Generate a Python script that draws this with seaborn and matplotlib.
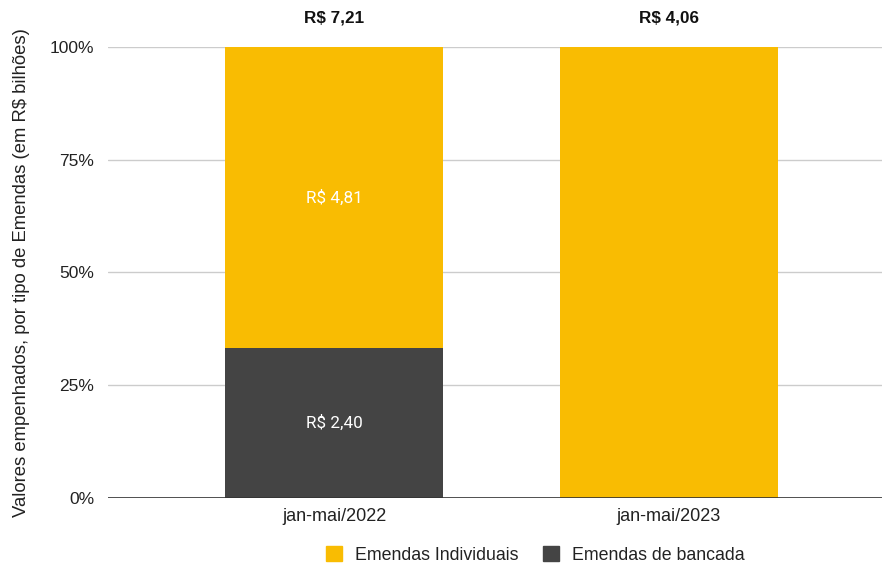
import matplotlib

matplotlib.use("Agg")

import matplotlib.pyplot as plt  # noqa: E402
import pandas as pd  # noqa: E402
import seaborn as sns  # noqa: E402
from matplotlib.patches import Patch  # noqa: E402
from matplotlib.ticker import PercentFormatter  # noqa: E402

periodos = ["jan-mai/2022", "jan-mai/2023"]
individuais = [4.81, 4.06]
bancada = [2.40, 0.0]
totais = ["R$ 7,21", "R$ 4,06"]
rotulos_individuais = ["R$ 4,81", ""]
rotulos_bancada = ["R$ 2,40", ""]

COR_IND = "#F9BC02"
COR_BAN = "#444444"
TXT = "#222222"

sns.set_theme(style="white")
plt.rcParams["font.family"] = ["Liberation Sans", "DejaVu Sans"]

df = pd.DataFrame({"periodo": periodos, "ind": individuais, "ban": bancada})
soma = df["ind"] + df["ban"]
df["ban_pct"] = df["ban"] / soma * 100
df["ind_pct"] = df["ind"] / soma * 100

fig = plt.figure(figsize=(8.82, 5.65), dpi=100)
ax = fig.add_axes([0.1224, 0.1186, 0.8776, 0.7982])

sns.barplot(data=df, x="periodo", y="ban_pct", color=COR_BAN, width=0.65,
            saturation=1, linewidth=0, ax=ax, zorder=3)
sns.barplot(data=df, x="periodo", y="ind_pct", color=COR_IND, width=0.65,
            saturation=1, linewidth=0, bottom=df["ban_pct"], ax=ax, zorder=3)

for i, row in df.iterrows():
    if rotulos_bancada[i]:
        ax.text(i, row["ban_pct"] / 2, rotulos_bancada[i], ha="center", va="center",
                color="white", fontsize=12.3, family=["Roboto", "DejaVu Sans"])
    if rotulos_individuais[i]:
        ax.text(i, row["ban_pct"] + row["ind_pct"] / 2, rotulos_individuais[i],
                ha="center", va="center", color="white", fontsize=12.3,
                family=["Roboto", "DejaVu Sans"])
    ax.text(i, 106.5, totais[i], ha="center", va="center", color="#111111",
            fontsize=12.3, fontweight="bold")

ax.set_xlim(-0.675, 1.636)
ax.set_ylim(0, 100)
ax.set_yticks([0, 25, 50, 75, 100])
ax.yaxis.set_major_formatter(PercentFormatter(decimals=0))
ax.grid(axis="y", color="#CCCCCC", linewidth=1, zorder=0)
ax.axhline(0, color="#333333", linewidth=1.2, zorder=4)
for s in ax.spines.values():
    s.set_visible(False)
ax.tick_params(axis="both", length=0, colors=TXT)
ax.tick_params(axis="y", pad=10, labelsize=12.5)
ax.tick_params(axis="x", pad=7, labelsize=13)
ax.set_xlabel("")
ax.set_ylabel("Valores empenhados, por tipo de Emendas (em R$ bilhões)",
              fontsize=13.3, color=TXT, labelpad=14)

handles = [Patch(color=COR_IND, label="Emendas Individuais"),
           Patch(color=COR_BAN, label="Emendas de bancada")]
fig.legend(handles=handles, loc="center", bbox_to_anchor=(0.607, 0.018), ncol=2,
           frameon=False, fontsize=12.8, handlelength=0.9, handleheight=0.9,
           handletextpad=0.7, columnspacing=1.4, labelcolor=TXT)

fig.savefig("out.png", dpi=100)
